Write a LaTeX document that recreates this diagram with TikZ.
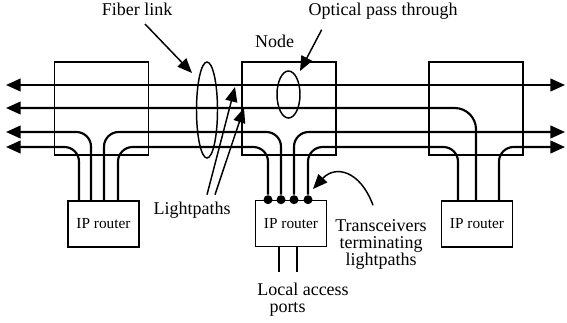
\documentclass[tikz,border=0pt]{standalone}
\usepackage{fontspec}
\setmainfont{Liberation Serif}
\usetikzlibrary{arrows.meta,calc,shapes.geometric}

\tikzset{every picture/.style={line width=0.75pt}}
\tikzset{
	nodebox/.style={draw,line width=1.2pt,minimum width=70.5pt,minimum height=69.75pt,inner sep=0pt},
	router/.style={draw,line width=1.2pt,minimum width=53pt,minimum height=34.5pt,inner sep=0pt,font=\fontsize{11.5}{13}\selectfont},
	oval/.style={draw,ellipse,line width=1.1pt,inner sep=0pt},
	lpath/.style={line width=1.6pt,rounded corners=11pt},
	starttip/.style={{Triangle[length=11pt,width=9.5pt]}-},
	endtip/.style={-{Triangle[length=11pt,width=9.5pt]}},
	bothtips/.style={{Triangle[length=11pt,width=9.5pt]}-{Triangle[length=11pt,width=9.5pt]}},
	ann/.style={line width=1.1pt,-{Triangle[length=11pt,width=9pt]}},
	lab/.style={font=\fontsize{13.5}{12.75}\selectfont,inner sep=1pt},
	trx/.style={circle,fill,inner sep=0pt,minimum size=6.75pt},
}

\begin{document}
\begin{tikzpicture}[x=0.75pt,y=0.75pt,yscale=-1,xscale=1]
	\useasboundingbox (0,0) rectangle (567,322);

	%Shape: Rectangle
	\node[nodebox] (n1) at (101.5,108.5) {};
	\node[nodebox] (n2) at (289,108.5) {};
	\node[nodebox] (n3) at (476,108.5) {};
	%Shape: Rectangle
	\node[router] (r1) at (103.5,224) {IP router};
	\node[router] (r2) at (291,223.5) {IP router};
	\node[router] (r3) at (477,224) {IP router};
	%Shape: Ellipse
	\node[oval,minimum width=15.75pt,minimum height=72pt] (fibring) at (207,110) {};
	\node[oval,minimum width=17.25pt,minimum height=35.25pt] (optring) at (288.5,94.5) {};

	%Shape: Circle
	\node[trx] (t1) at (268,0 |- r2.north) {};
	\node[trx] (t2) at (281,0 |- r2.north) {};
	\node[trx] (t3) at (294,0 |- r2.north) {};
	\node[trx] (t4) at (308,0 |- r2.north) {};

	% link ends and router ports
	\coordinate (w1) at (6,85);   \coordinate (e1) at (565,85);
	\coordinate (w2) at (6,108);
	\coordinate (w3) at (6,132);  \coordinate (e3) at (565,132);
	\coordinate (w4) at (6,147);  \coordinate (e4) at (565,147);
	\coordinate (r1a) at (79,0 |- r1.north);
	\coordinate (r1b) at (91,0 |- r1.north);
	\coordinate (r1c) at (104,0 |- r1.north);
	\coordinate (r1d) at (118,0 |- r1.north);
	\coordinate (r3a) at (458,0 |- r3.north);
	\coordinate (r3b) at (476,0 |- r3.north);
	\coordinate (r3c) at (499,0 |- r3.north);

	%Straight Lines
	\draw[lpath,bothtips] (w1) -- (e1);
	\draw[lpath,starttip,rounded corners=16pt] (w2) -| (r3b);
	\draw[lpath,starttip] (w3) -| (r1b);
	\draw[lpath,starttip] (w4) -| (r1a);
	\draw[lpath] (r1c) -- (r1c |- w3) -- (t2 |- w3) -- (t2);
	\draw[lpath] (r1d) -- (r1d |- w4) -- (t1 |- w4) -- (t1);
	\draw[lpath,endtip] (t3) -- (t3 |- e3) -- (e3);
	\draw[lpath] (t4) -- (t4 |- w4) -- (r3a |- w4) -- (r3a);
	\draw[lpath,endtip] (r3c) -- (r3c |- e4) -- (e4);

	% Text Node
	\node[lab,anchor=base] (fib) at (137,15) {Fiber link};
	% Text Node
	\node[lab,anchor=base] (opt) at (383,15) {Optical pass through};
	% Text Node
	\node[lab,anchor=base] (nodelbl) at (274.5,47) {Node};
	% Text Node
	\node[lab,anchor=base] (lpl) at (192,214) {Lightpaths};
	% Text Node
	\node[lab,align=center] (trl) at (381,244) {Transceivers\\terminating\\lightpaths};
	% Text Node
	\node[lab,anchor=base] (loc) at (303,295) {Local access};
	% Text Node
	\node[lab,anchor=base] (prt) at (287.5,312) {ports};

	%Straight Lines
	\coordinate (fibtip) at (192,73);
	\coordinate (opttip) at (300,71);
	\coordinate (lptipa) at (235,87);
	\coordinate (lptipb) at (244,108);
	\coordinate (trxtip) at (313,189);
	\draw[ann] ($(fib.south)+(8,7)$) -- (fibtip);
	\draw[ann] ($(opt.south west)+(15,9)$) -- (opttip);
	\draw[ann] ($(lpl.north)+(15,-5)$) -- (lptipa);
	\draw[ann] ($(lpl.north)+(23,-5)$) -- (lptipb);
	\draw[ann] ($(trl.north)+(-8,-12)$) .. controls (360,170) and (335,165) .. (trxtip);
	%Straight Lines
	\coordinate (acc1) at (279,272);
	\coordinate (acc2) at (297,272);
	\draw[line width=1.2pt] (acc1 |- r2.south) -- (acc1);
	\draw[line width=1.2pt] (acc2 |- r2.south) -- (acc2);

\end{tikzpicture}
\end{document}
